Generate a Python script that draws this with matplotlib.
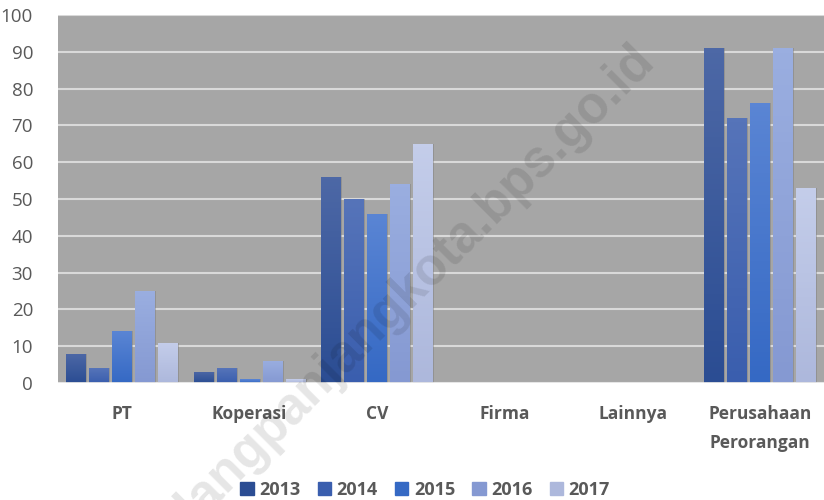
import matplotlib
matplotlib.use("Agg")
import matplotlib.pyplot as plt
from matplotlib.colors import LinearSegmentedColormap
import numpy as np

categories = ["PT", "Koperasi", "CV", "Firma", "Lainnya", "Perusahaan\nPerorangan"]
years = ["2013", "2014", "2015", "2016", "2017"]
v2013 = [8, 3, 56, 0, 0, 91]
v2014 = [4, 4, 50, 0, 0, 72]
v2015 = [14, 1, 46, 0, 0, 76]
v2016 = [25, 6, 54, 0, 0, 91]
v2017 = [11, 1, 65, 0, 0, 53]
y_ticks = [0, 10, 20, 30, 40, 50, 60, 70, 80, 90, 100]

series = [v2013, v2014, v2015, v2016, v2017]
# (top, bottom) colours of each year's gradient
grads = [("#4d68a6", "#2b4d93"), ("#5674b9", "#3a5eae"), ("#5a85d4", "#3569c4"),
         ("#9aaee0", "#8599d2"), ("#c4cdea", "#adb8dc")]

plt.rcParams["font.family"] = ["Open Sans", "DejaVu Sans"]

fig = plt.figure(figsize=(8.24, 5.0), dpi=100)
ax = fig.add_axes([0.0704, 0.234, 0.9296, 0.736])
ax.set_facecolor("#a6a6a6")

x = np.arange(len(categories))
width = 0.156
step = 0.18
ramp = np.linspace(0, 1, 64).reshape(-1, 1)
for i, (vals, (top, bot)) in enumerate(zip(series, grads)):
    off = (i - 2) * step
    cmap = LinearSegmentedColormap.from_list(years[i], [bot, top])
    # soft shadow to the right
    ax.bar(x + off + 0.010, vals, width, color="#7a7a7a", alpha=0.45, zorder=2)
    bars = ax.bar(x + off, vals, width, color=top, label=years[i], zorder=3)
    for b in bars:
        h = b.get_height()
        if h <= 0:
            continue
        x0 = b.get_x()
        im = ax.imshow(ramp, cmap=cmap, origin="lower", aspect="auto",
                       extent=(x0, x0 + b.get_width(), 0, h), zorder=3.5)
        im.set_clip_path(b)

ax.set_xlim(-0.5, len(categories) - 0.5)
ax.set_ylim(0, 100)
ax.set_yticks(y_ticks)
ax.yaxis.grid(True, color="#d9d9d9", linewidth=1.5, zorder=1)
ax.set_axisbelow(True)
ax.axhline(0, color="#e8e8e8", linewidth=2, zorder=4)
for s in ax.spines.values():
    s.set_visible(False)
ax.tick_params(axis="y", length=0, labelsize=13.5, labelcolor="#595959", pad=18)
ax.tick_params(axis="x", length=0, pad=16)
ax.set_xticks(x)
ax.set_xticklabels(categories, fontsize=12.5, fontweight="bold", color="#595959",
                   linespacing=1.75)

leg = fig.legend(loc="lower center", bbox_to_anchor=(0.516, -0.03), ncol=5,
                 frameon=False, handlelength=0.75, handleheight=0.75,
                 handletextpad=0.3, columnspacing=0.95,
                 prop={"size": 13, "weight": "bold"})
for t in leg.get_texts():
    t.set_color("#595959")
for h, (top, bot) in zip(leg.legend_handles, grads):
    h.set_color(bot)

fig.text(0.785, 0.895, "padangpanjangkota.bps.go.id", rotation=45,
         rotation_mode="anchor", ha="right", va="center", fontsize=37,
         fontweight="bold", color="black", alpha=0.1,
         family=["Liberation Sans", "DejaVu Sans"], zorder=10)

fig.savefig("out.png", dpi=100)
